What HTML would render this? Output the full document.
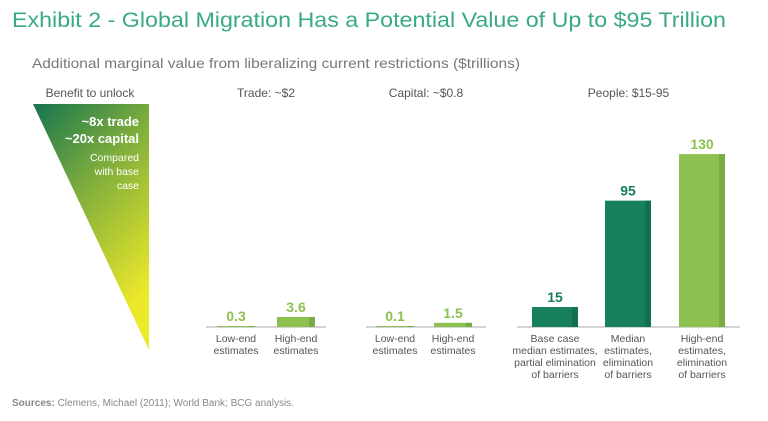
<!DOCTYPE html>
<html><head><meta charset="utf-8"><style>
body{margin:0;background:#fff;}
svg{display:block;font-family:"Liberation Sans",sans-serif;}
</style></head><body>
<svg id="chart" width="768" height="421" viewBox="0 0 768 421">
<defs>
<linearGradient id="tri" x1="0" y1="0" x2="0.5" y2="1">
<stop offset="0" stop-color="#15744f"/><stop offset="0.45" stop-color="#7fae3c"/><stop offset="1" stop-color="#ece82a"/>
</linearGradient>
</defs>
<text x="12" y="27" font-size="21" fill="#3aa987" textLength="714" lengthAdjust="spacingAndGlyphs">Exhibit 2 - Global Migration Has a Potential Value of Up to $95 Trillion</text>
<text x="32" y="68" font-size="14" fill="#777" textLength="488" lengthAdjust="spacingAndGlyphs">Additional marginal value from liberalizing current restrictions ($trillions)</text>
<text x="90" y="97" font-size="12" fill="#555" text-anchor="middle">Benefit to unlock</text>
<polygon points="33,104 149,104 149,350" fill="url(#tri)"/>
<g fill="#fff" text-anchor="end">
<text x="139" y="126" font-size="13" font-weight="bold">~8x trade</text>
<text x="139" y="143" font-size="13" font-weight="bold">~20x capital</text>
<text x="139" y="161" font-size="10.5">Compared</text>
<text x="139" y="175" font-size="10.5">with base</text>
<text x="139" y="189" font-size="10.5">case</text>
</g>
<g id="bars"></g>
<text x="12" y="406" font-size="10" fill="#888"><tspan font-weight="bold">Sources:</tspan> Clemens, Michael (2011); World Bank; BCG analysis.</text>
</svg>
<script>
const groups = ["Trade: ~$2", "Capital: ~$0.8", "People: $15-95"];
const groupIndex = [0, 0, 1, 1, 2, 2, 2];
const values = [0.3, 3.6, 0.1, 1.5, 15, 95, 130];
const labels = ["0.3", "3.6", "0.1", "1.5", "15", "95", "130"];
const categories = [["Low-end","estimates"],["High-end","estimates"],["Low-end","estimates"],["High-end","estimates"],
 ["Base case","median estimates,","partial elimination","of barriers"],["Median","estimates,","elimination","of barriers"],["High-end","estimates,","elimination","of barriers"]];
const colorKey = ["light","light","light","light","dark","dark","light"];

const NS = "http://www.w3.org/2000/svg";
const g = document.getElementById("bars");
const baseY = 327;
const groupLayout = [{x0:206,x1:326,scale:2.78},{x0:366,x1:486,scale:2.78},{x0:517,x1:740,scale:1.33}];
const slotX = [217,277,376,434,532,605,679];
const barW = [38,38,38,38,46,46,46];
function yScale(v, gi){ return baseY - v*groupLayout[gi].scale; }
function mk(tag, attrs){ const e=document.createElementNS(NS,tag); for(const k in attrs) e.setAttribute(k,attrs[k]); g.appendChild(e); return e; }
groups.forEach((name,gi)=>{
  const L=groupLayout[gi];
  const t=mk("text",{x:(L.x0+L.x1)/2,y:97,"font-size":12,fill:"#555","text-anchor":"middle"});
  t.textContent=name;
  
  
  const l=mk("line",{x1:L.x0,x2:L.x1,y1:baseY,y2:baseY,stroke:"#aaa","stroke-width":1});
  
  
});
values.forEach((v,i)=>{
  const gi=groupIndex[i];
  const y=yScale(v,gi), x=slotX[i], w=barW[i];
  const h=Math.max(baseY-y,1);
  const fill=colorKey[i]==="dark"?"#16805a":"#8cc14f";
  const side=colorKey[i]==="dark"?"#13704f":"#7aab44";
  const r=mk("rect",{x:x,y:baseY-h,width:w,height:h,fill:fill});
  
  
  const s=mk("rect",{x:x+w-6,y:baseY-h,width:6,height:h,fill:side});
  
  
  const vt=mk("text",{x:x+w/2,y:baseY-h-5,"font-size":14,"font-weight":"bold",fill:fill,"text-anchor":"middle"});
  vt.textContent=labels[i];
  
  
  categories[i].forEach((line,k)=>{
    const ct=mk("text",{x:x+w/2,y:342+k*12,"font-size":10.5,fill:"#555","text-anchor":"middle"});
    ct.textContent=line;
    
    
  });
});
</script>
</body></html>
